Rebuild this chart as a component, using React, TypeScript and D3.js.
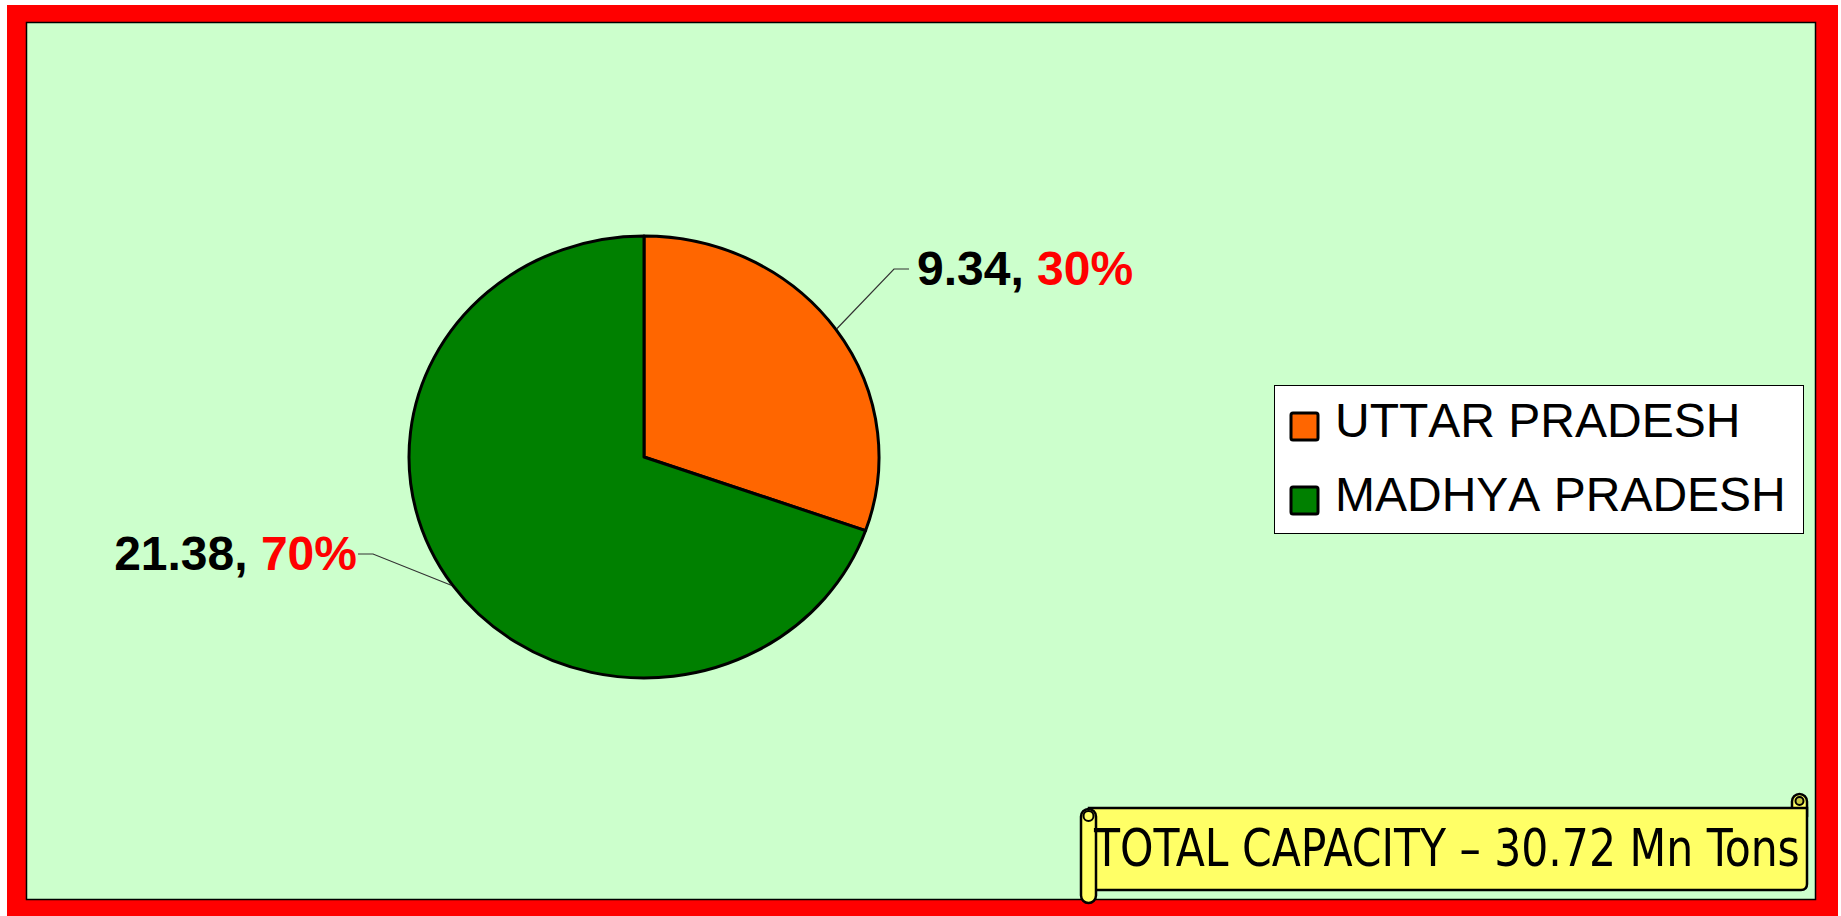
import { useEffect, useRef } from 'react'
import * as d3 from 'd3'

// ── Data ─────────────────────────────────────────────────────────────────────
const STATES = ['UTTAR PRADESH', 'MADHYA PRADESH']
const CAPACITY = [9.34, 21.38]
const PERCENT_LABELS = ['30%', '70%']
const SLICE_COLORS = ['#FF6600', '#008000']
const TOTAL_TEXT = 'TOTAL CAPACITY – 30.72 Mn Tons'

const W = 1841
const H = 916

// pie geometry (slightly elliptical in the original)
const CX = 644
const CY = 457
const RX = 235
const RY = 221

// leader elbows + label anchors, per slice
const LABEL_POS = [
  { elbowX: 894, elbowY: 269, endX: 909, textX: 917, anchor: 'start' },
  { elbowX: 373, elbowY: 554, endX: 358, textX: 357, anchor: 'end' },
]

export default function App() {
  const svgRef = useRef<SVGSVGElement | null>(null)

  useEffect(() => {
    if (!svgRef.current) return
    const svg = d3.select(svgRef.current)
    svg.selectAll('*').remove()

    // ── Frame ──────────────────────────────────────────────────────────────
    svg.append('rect').attr('x', 0).attr('y', 0).attr('width', W).attr('height', H).attr('fill', '#ffffff')
    svg.append('rect').attr('x', 7).attr('y', 5).attr('width', 1831).attr('height', 915).attr('fill', '#FF0000')
    svg.append('rect')
      .attr('x', 26.5).attr('y', 22.5).attr('width', 1789).attr('height', 877)
      .attr('fill', '#CCFFCC').attr('stroke', '#000').attr('stroke-width', 1.5)

    // ── Pie ────────────────────────────────────────────────────────────────
    const pie = d3.pie<number>().sort(null).value((d) => d)
    const arcs = pie(CAPACITY)
    const arc = d3.arc<d3.PieArcDatum<number>>().innerRadius(0).outerRadius(1)

    const pg = svg.append('g').attr('transform', `translate(${CX},${CY}) scale(${RX},${RY})`)
    pg.selectAll('path')
      .data(arcs)
      .join('path')
      .attr('d', arc)
      .attr('fill', (_, i) => SLICE_COLORS[i])
      .attr('stroke', '#000')
      .attr('stroke-width', 3)
      .attr('stroke-linejoin', 'round')
      .attr('vector-effect', 'non-scaling-stroke')

    // ── Leader lines + labels ─────────────────────────────────────────────
    arcs.forEach((a, i) => {
      const mid = (a.startAngle + a.endAngle) / 2
      const sx = CX + Math.sin(mid) * RX * 1.005
      const sy = CY - Math.cos(mid) * RY * 1.005
      const p = LABEL_POS[i]
      svg.append('polyline')
        .attr('points', `${sx},${sy} ${p.elbowX},${p.elbowY} ${p.endX},${p.elbowY}`)
        .attr('fill', 'none').attr('stroke', '#333').attr('stroke-width', 1.2)

      const t = svg.append('text')
        .attr('x', p.textX).attr('y', p.elbowY + 16)
        .attr('text-anchor', p.anchor)
        .attr('font-family', '"Liberation Sans", Arial, sans-serif')
        .attr('font-weight', 'bold').attr('font-size', 48)
        .style('font-kerning', 'none')
      t.append('tspan').attr('fill', '#000').text(`${CAPACITY[i].toFixed(2)}, `)
      t.append('tspan').attr('fill', '#FF0000').text(PERCENT_LABELS[i])
    })

    // ── Legend ─────────────────────────────────────────────────────────────
    const lg = svg.append('g').attr('transform', 'translate(1274,385)')
    lg.append('rect').attr('x', 0.5).attr('y', 0.5).attr('width', 529).attr('height', 148)
      .attr('fill', '#fff').attr('stroke', '#000').attr('stroke-width', 1)
    STATES.forEach((s, i) => {
      const y = 28 + i * 74
      lg.append('rect').attr('x', 17).attr('y', y).attr('width', 27).attr('height', 27)
        .attr('rx', 2).attr('fill', SLICE_COLORS[i]).attr('stroke', '#000').attr('stroke-width', 3)
      lg.append('text').attr('x', 61).attr('y', y + 24)
        .attr('font-family', '"Liberation Sans", Arial, sans-serif')
        .attr('font-size', 48).attr('fill', '#000')
        .style('font-kerning', 'none')
        .text(s)
    })

    // ── Scroll banner ──────────────────────────────────────────────────────
    const bg = svg.append('g')
    const yel = '#FFFF66'
    // right top roll
    bg.append('rect').attr('x', 1792).attr('y', 794).attr('width', 15).attr('height', 30)
      .attr('rx', 7.5).attr('fill', yel).attr('stroke', '#000').attr('stroke-width', 2.5)
    // body
    bg.append('path')
      .attr('d', 'M1089,808 L1807,808 L1807,884 Q1807,890 1801,890 L1089,890 Z')
      .attr('fill', yel).attr('stroke', '#000').attr('stroke-width', 2.5)
    bg.append('circle').attr('cx', 1799.5).attr('cy', 801).attr('r', 4)
      .attr('fill', '#c8c840').attr('stroke', '#000').attr('stroke-width', 2)
    // left roll
    bg.append('rect').attr('x', 1081).attr('y', 809).attr('width', 15).attr('height', 94)
      .attr('rx', 7.5).attr('fill', yel).attr('stroke', '#000').attr('stroke-width', 2.5)
    bg.append('circle').attr('cx', 1088.5).attr('cy', 816).attr('r', 5)
      .attr('fill', yel).attr('stroke', '#000').attr('stroke-width', 2)

    // banner text: measured, then squeezed horizontally to fit the scroll
    const tt = bg.append('text')
      .attr('x', 0).attr('y', 0)
      .attr('font-family', '"DejaVu Sans Condensed", "DejaVu Sans", sans-serif')
      .attr('font-size', 51).attr('fill', '#000')
      .text(TOTAL_TEXT)
    const natural = (tt.node() as SVGTextElement).getComputedTextLength() || 708
    tt.attr('transform', `translate(1094,866) scale(${706 / natural},1)`)
  }, [])

  return (
    <div style={{ position: 'absolute', left: 0, top: 0, width: W, height: H, overflow: 'hidden' }}>
      <svg ref={svgRef} width={W} height={H} style={{ display: 'block' }} />
    </div>
  )
}
